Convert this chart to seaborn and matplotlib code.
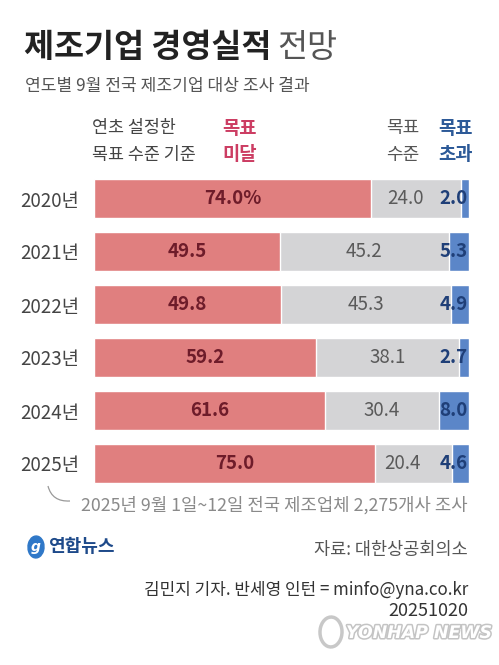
import matplotlib
matplotlib.use("Agg")
import matplotlib.pyplot as plt
import seaborn as sns
import pandas as pd
from matplotlib.patches import Ellipse, PathPatch
from matplotlib.path import Path
import matplotlib.patheffects as pe

# 연도별 9월 전국 제조기업 대상 조사 결과 (%)
years = ["2020년", "2021년", "2022년", "2023년", "2024년", "2025년"]
below = [74.0, 49.5, 49.8, 59.2, 61.6, 75.0]   # 목표 미달
meet = [24.0, 45.2, 45.3, 38.1, 30.4, 20.4]    # 목표 수준
above = [2.0, 5.3, 4.9, 2.7, 8.0, 4.6]         # 목표 초과

df = pd.DataFrame({"year": years, "below": below, "meet": meet, "above": above})
df["cum_meet"] = df["below"] + df["meet"]
df["cum_all"] = df["cum_meet"] + df["above"]

sns.set_style("white")
plt.rcParams["font.family"] = ["Noto Sans CJK KR", "DejaVu Sans"]

RED = "#e07f7f"
GRAY = "#d4d4d6"
BLUE = "#5b86c8"
W, H = 499, 665

fig = plt.figure(figsize=(W / 100, H / 100), dpi=100)
fig.patch.set_facecolor("white")
ax = fig.add_axes([94 / W, 1 - 490 / H, 375 / W, 318 / H])

sns.barplot(data=df, x="cum_all", y="year", color=BLUE, orient="h", width=0.72,
            saturation=1, ax=ax)
sns.barplot(data=df, x="cum_meet", y="year", color=GRAY, orient="h", width=0.72,
            saturation=1, ax=ax)
sns.barplot(data=df, x="below", y="year", color=RED, orient="h", width=0.72,
            saturation=1, ax=ax)

ax.set_xlim(0, 100)
ax.set_ylim(5.5, -0.5)
ax.set_xlabel("")
ax.set_ylabel("")
ax.set_xticks([])
for s in ax.spines.values():
    s.set_visible(False)
ax.tick_params(axis="y", length=0, pad=11, labelsize=13.5, labelcolor="#444444")

for i, row in df.iterrows():
    lbl = f"{row['below']:.1f}%" if i == 0 else f"{row['below']:.1f}"
    ax.text(row["below"] / 2, i, lbl, ha="center", va="center", fontsize=13.5,
            fontweight="bold", color="#6e1c2a")
    shift = -3 if row["meet"] < 25 else 0
    ax.text(row["below"] + row["meet"] / 2 + shift, i,
            f"{row['meet']:.1f}", ha="center", va="center", fontsize=13.5,
            color="#5a5a5a")
    ax.text(99.6, i, f"{row['above']:.1f}", ha="right", va="center", fontsize=13.5,
            fontweight="bold", color="#1f3f78")

# title
t1 = fig.text(24 / W, 1 - 48 / H, "제조기업 경영실적", fontsize=23.5, fontweight="bold",
              color="#222222", va="center", ha="left")
fig.canvas.draw()
bb = t1.get_window_extent()
fig.text((bb.x1 + 6) / W, 1 - 48 / H, "전망", fontsize=23.5, fontweight="light",
         color="#555555", va="center", ha="left")
fig.text(25 / W, 1 - 86 / H, "연도별 9월 전국 제조기업 대상 조사 결과", fontsize=12.3,
         color="#555555", va="center", ha="left")

# header
fig.text(92 / W, 1 - 128 / H, "연초 설정한", fontsize=12.5, color="#444444", va="center")
fig.text(92 / W, 1 - 155 / H, "목표 수준 기준", fontsize=12.5, color="#444444", va="center")
fig.text(222 / W, 1 - 128 / H, "목표", fontsize=13.5, fontweight="bold", color="#cc3d63", va="center")
fig.text(222 / W, 1 - 155 / H, "미달", fontsize=13.5, fontweight="bold", color="#cc3d63", va="center")
fig.text(386 / W, 1 - 128 / H, "목표", fontsize=13, color="#555555", va="center")
fig.text(386 / W, 1 - 155 / H, "수준", fontsize=13, color="#555555", va="center")
fig.text(438 / W, 1 - 128 / H, "목표", fontsize=13.5, fontweight="bold", color="#2d5a98", va="center")
fig.text(438 / W, 1 - 155 / H, "초과", fontsize=13.5, fontweight="bold", color="#2d5a98", va="center")

# footnote with curved leader
verts = [(48 / W, 1 - 486 / H), (52 / W, 1 - 502 / H), (70 / W, 1 - 501 / H)]
curve = PathPatch(Path(verts, [Path.MOVETO, Path.CURVE3, Path.CURVE3]),
                  transform=fig.transFigure, fill=False, edgecolor="#999999", lw=0.9)
fig.add_artist(curve)
fig.text(468 / W, 1 - 505 / H, "2025년 9월 1일~12일 전국 제조업체 2,275개사 조사",
         fontsize=12.8, color="#8a8a8a", va="center", ha="right")

# logo
fig.add_artist(Ellipse((36 / W, 1 - 547 / H), 16 / W, 22 / H, angle=-20,
                       transform=fig.transFigure, color="#2f78c8"))
fig.text(36 / W, 1 - 547 / H, "g", fontsize=10, color="white", fontstyle="italic",
         fontweight="bold", ha="center", va="center", family="DejaVu Sans")
fig.text(48 / W, 1 - 547 / H, "연합뉴스", fontsize=13, fontweight="bold",
         color="#1e4a8a", va="center", ha="left")

fig.text(468 / W, 1 - 550 / H, "자료: 대한상공회의소", fontsize=12.6, color="#555555",
         va="center", ha="right")
fig.text(468 / W, 1 - 590 / H, "김민지 기자. 반세영 인턴 = minfo@yna.co.kr", fontsize=12.2,
         color="#333333", va="center", ha="right")
fig.text(468 / W, 1 - 611 / H, "20251020", fontsize=13, color="#333333",
         va="center", ha="right")

# watermark
fig.add_artist(Ellipse((331 / W, 1 - 632 / H), 22 / W, 30 / H, angle=-20,
                       transform=fig.transFigure, fill=False, edgecolor="#c8c8c8", lw=2.5))
wm = fig.text(346 / W, 1 - 633 / H, "YONHAP NEWS", fontsize=12.5, fontweight="bold",
              fontstyle="italic", color="white", va="center", ha="left",
              family="DejaVu Sans")
wm.set_path_effects([pe.Stroke(linewidth=2.2, foreground="#c4c4c4"), pe.Normal()])

fig.savefig("out.png", dpi=100, facecolor="white")
